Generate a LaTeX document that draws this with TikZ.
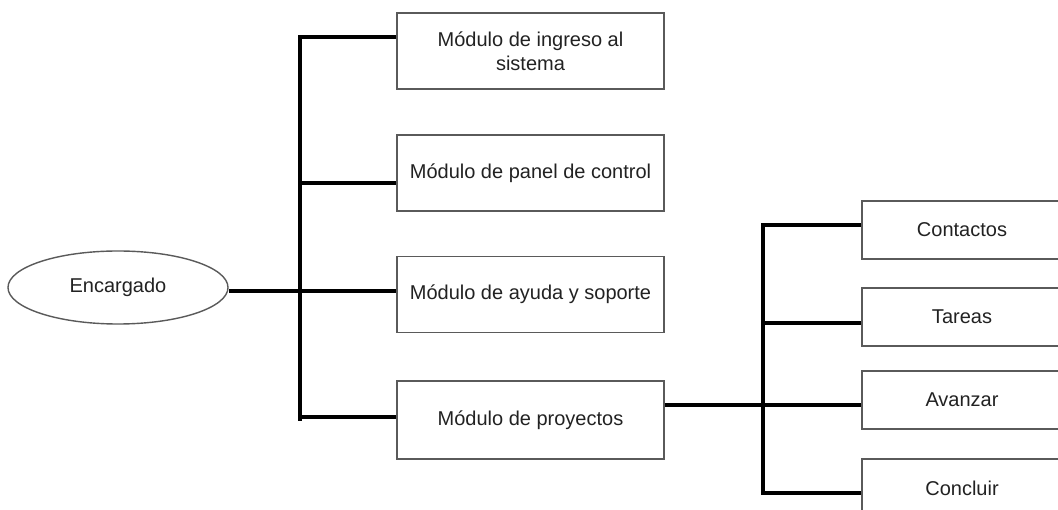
\documentclass[tikz,border=0pt]{standalone}
\usepackage{fontspec}
\setmainfont{Liberation Sans}
\usetikzlibrary{shapes.geometric}
\definecolor{framegray}{HTML}{5A5A5A}
\definecolor{inkgray}{HTML}{222222}
\tikzset{
  modbox/.style={draw=framegray, line width=1.6pt, rectangle, inner sep=0pt,
    minimum width=267, minimum height=76, align=center, text=inkgray,
    font=\fontsize{20}{24}\selectfont},
  subbox/.style={modbox, minimum width=200, minimum height=58},
  actor/.style={draw=framegray, line width=1.4pt, ellipse, inner sep=0pt,
    minimum width=220, minimum height=73, text=inkgray,
    font=\fontsize{20}{24}\selectfont},
  conn/.style={draw=black, line width=3.4pt}
}
\begin{document}
\begin{tikzpicture}[x=1pt, y=-1pt]
  \clip (0,0) rectangle (1058,510);
  \fill[white] (0,0) rectangle (1058,510);

  % actor and first-level modules
  \node[actor] (enc) at (118,287.5) {Encargado};
  \node[modbox] (m1) at (530.5,51) {Módulo de ingreso al\\sistema};
  \node[modbox] (m2) at (530.5,173) {Módulo de panel de control};
  \node[modbox] (m3) at (530.5,294.5) {Módulo de ayuda y soporte};
  \node[modbox, minimum height=78] (m4) at (530.5,420) {Módulo de proyectos};

  % project sub-modules
  \node[subbox] (s1) at (962,230) {Contactos};
  \node[subbox] (s2) at (962,317) {Tareas};
  \node[subbox] (s3) at (962,400) {Avanzar};
  \node[subbox] (s4) at (962,488) {Concluir};

  % first-level bracket
  \coordinate (j1) at (300,37);
  \coordinate (j2) at (300,183);
  \coordinate (j3) at (300,291);
  \coordinate (j4) at (300,417);
  \coordinate (jend) at (300,421);
  \draw[conn] (j1 -| m1.west) -- (j1) -- (jend);
  \draw[conn] (j2) -- (j2 -| m2.west);
  \draw[conn] (j3 -| enc.east) -- (j3 -| m3.west);
  \draw[conn] (j4) -- (j4 -| m4.west);

  % second-level bracket
  \coordinate (k1) at (763,225);
  \coordinate (k2) at (763,323);
  \coordinate (k3) at (763,405);
  \coordinate (k4) at (763,493);
  \draw[conn] (k1 -| s1.west) -- (k1) -- (k4) -- (k4 -| s4.west);
  \draw[conn] (k2) -- (k2 -| s2.west);
  \draw[conn] (k3 -| m4.east) -- (k3 -| s3.west);
\end{tikzpicture}
\end{document}
